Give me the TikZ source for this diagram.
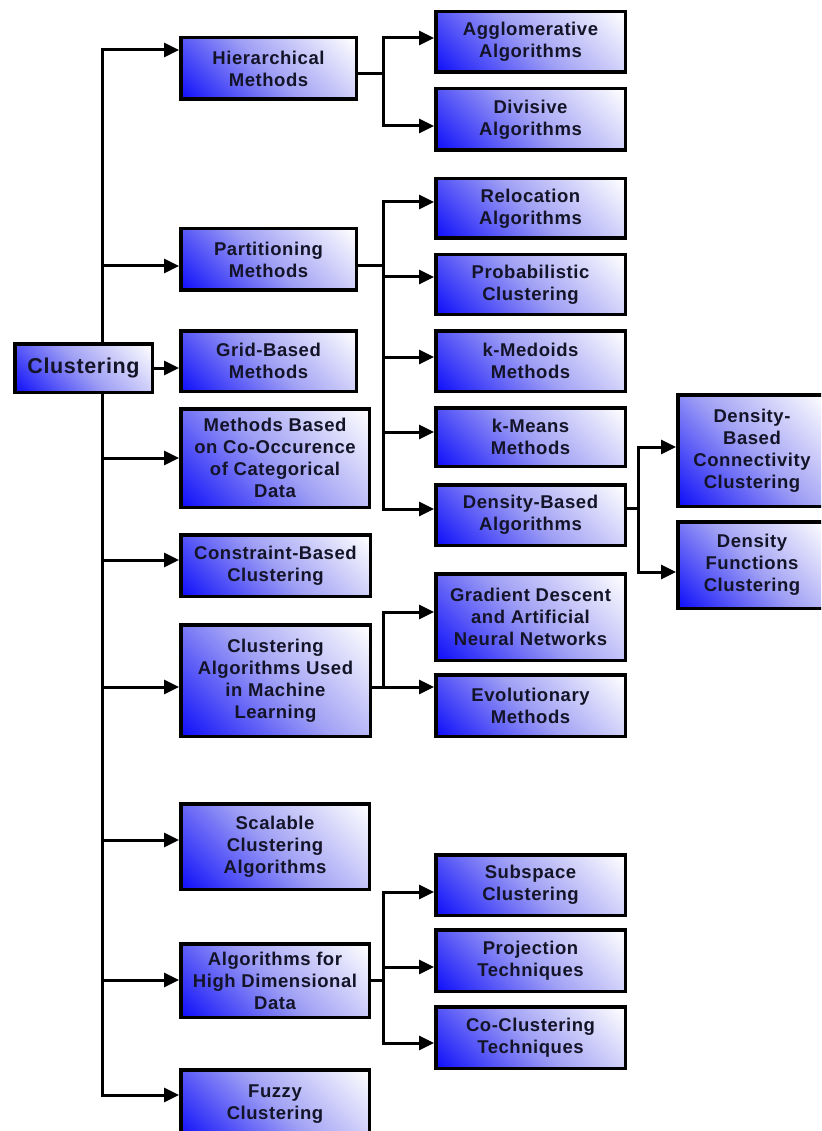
\documentclass[tikz,border=0pt]{standalone}
\usepackage{fontspec}
\setmainfont{Liberation Sans}[LetterSpace=3]
\usepackage{tikz}
\usetikzlibrary{arrows.meta,backgrounds,calc}

\definecolor{boxblue}{RGB}{15,15,250}
\definecolor{boxlav}{RGB}{160,160,245}
\definecolor{inkdark}{RGB}{20,20,40}

\pgfdeclareverticalshading{boxfade}{100bp}{color(0bp)=(boxblue); color(15bp)=(boxblue);
  color(50bp)=(boxlav); color(85bp)=(white); color(100bp)=(white)}

\tikzset{
  box/.style={draw=black, line width=3.5pt, shading=boxfade, shading angle=-45,
    align=center, inner sep=0pt, text=inkdark,
    font=\bfseries\fontsize{18.5}{22}\selectfont},
  sz/.style 2 args={minimum width=#1pt-3.5pt, minimum height=#2pt-3.5pt},
  wire/.style={line width=3pt},
  conn/.style={line width=3pt, -{Triangle[length=15pt,width=14pt]}},
}

\begin{document}
\begin{tikzpicture}[x=1pt,y=-1pt]
\useasboundingbox (0,0) rectangle (821,1131);
\clip (0,0) rectangle (821,1131);

% Root
\node[box, sz={141}{52}, font=\bfseries\fontsize{21.5}{26}\selectfont] (root) at (83.5,368) {Clustering};

% First level
\node[box, sz={179}{65}] (hier) at (268.5,68.5) {Hierarchical\\Methods};
\node[box, sz={179}{65}] (part) at (268.5,259.5) {Partitioning\\Methods};
\node[box, sz={179}{64}] (grid) at (268.5,361) {Grid-Based\\Methods};
\node[box, sz={192}{102}] (cooc) at (275,458) {Methods Based\\on Co-Occurence\\of Categorical\\Data};
\node[box, sz={193}{65}] (constr) at (275.5,565.5) {Constraint-Based\\Clustering};
\node[box, sz={193}{115}] (mlearn) at (275.5,680.5) {Clustering\\Algorithms Used\\in Machine\\Learning};
\node[box, sz={192}{89}] (scal) at (275,846.5) {Scalable\\Clustering\\Algorithms};
\node[box, sz={192}{77}] (highdim) at (275,980.5) {Algorithms for\\High Dimensional\\Data};
\node[box, sz={192}{72}] (fuzzy) at (275,1104) {Fuzzy\\Clustering};

% Second level
\node[box, sz={193}{64}] (agglo) at (530.5,42) {Agglomerative\\Algorithms};
\node[box, sz={193}{65}] (divis) at (530.5,119.5) {Divisive\\Algorithms};
\node[box, sz={193}{63}] (reloc) at (530.5,208.5) {Relocation\\Algorithms};
\node[box, sz={193}{63}] (prob) at (530.5,284.5) {Probabilistic\\Clustering};
\node[box, sz={193}{64}] (kmed) at (530.5,361) {k-Medoids\\Methods};
\node[box, sz={193}{62}] (kmeans) at (530.5,437) {k-Means\\Methods};
\node[box, sz={193}{64}] (dens) at (530.5,515) {Density-Based\\Algorithms};
\node[box, sz={193}{90}] (grad) at (530.5,617) {Gradient Descent\\and Artificial\\Neural Networks};
\node[box, sz={193}{65}] (evol) at (530.5,705.5) {Evolutionary\\Methods};
\node[box, sz={193}{64}] (subsp) at (530.5,885) {Subspace\\Clustering};
\node[box, sz={193}{65}] (proj) at (530.5,960.5) {Projection\\Techniques};
\node[box, sz={193}{65}] (coclust) at (530.5,1037.5) {Co-Clustering\\Techniques};

% Third level
\node[box, sz={152}{115}] (dbconn) at (752,450.5) {Density-\\Based\\Connectivity\\Clustering};
\node[box, sz={152}{90}] (dfunc) at (752,565) {Density\\Functions\\Clustering};

% Forks
\coordinate (trunk) at (102,368);
\coordinate (hfork) at (383,74);
\coordinate (pfork) at (383,266);
\coordinate (dfork) at (638,508);
\coordinate (mfork) at (383,687);
\coordinate (afork) at (383,980);

\begin{scope}[on background layer]
% trunk
\foreach \n/\y in {hier/50, part/266, cooc/458, constr/560, mlearn/687, scal/840, highdim/980, fuzzy/1095}
  \draw[conn] (trunk) |- (\n.west |- 0,\y);
\draw[conn] (root.east) -- (grid.west |- root.east);

% hierarchical
\draw[wire] (hier.east |- hfork) -- (hfork);
\foreach \n/\y in {agglo/38, divis/126}
  \draw[conn] (hfork) |- (\n.west |- 0,\y);

% partitioning
\draw[wire] (part.east |- pfork) -- (pfork);
\foreach \n/\y in {reloc/202, prob/277, kmed/357, kmeans/432, dens/509}
  \draw[conn] (pfork) |- (\n.west |- 0,\y);

% density-based
\draw[wire] (dens.east |- dfork) -- (dfork);
\foreach \n/\y in {dbconn/447, dfunc/572}
  \draw[conn] (dfork) |- (\n.west |- 0,\y);

% machine learning
\draw[wire] (mlearn.east |- mfork) -- (mfork);
\foreach \n/\y in {grad/612, evol/687}
  \draw[conn] (mfork) |- (\n.west |- 0,\y);

% high dimensional
\draw[wire] (highdim.east |- afork) -- (afork);
\foreach \n/\y in {subsp/892, proj/967, coclust/1043}
  \draw[conn] (afork) |- (\n.west |- 0,\y);
\end{scope}
\end{tikzpicture}
\end{document}
